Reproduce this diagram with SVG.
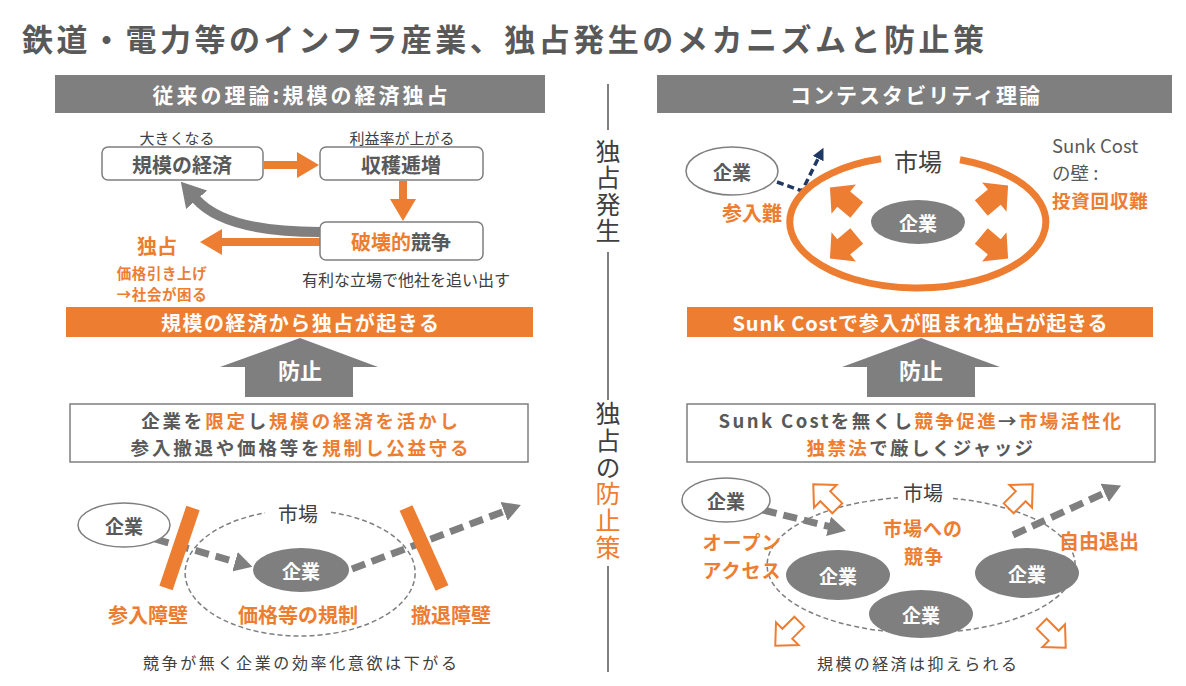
<svg xmlns="http://www.w3.org/2000/svg" width="1186" height="686" viewBox="0 0 1186 686">
<defs>
<style>
text{font-family:"Noto Sans CJK JP","Noto Sans",sans-serif;dominant-baseline:central;text-anchor:middle}
.b{font-weight:700}
.o{fill:#ED7D31}
.d{fill:#404040}
.g{fill:#595959}
.w{fill:#fff}
.bar{fill:#7F7F7F}
.obar{fill:#ED7D31}
.box{fill:#fff;stroke:#7F7F7F;stroke-width:1.5}
.oa{stroke:#ED7D31;stroke-width:8;fill:none}
.ga{stroke:#7F7F7F;stroke-width:10;fill:none}
.gd{stroke:#7F7F7F;stroke-width:7;stroke-dasharray:14 7;fill:none}
.nd{stroke:#1F3864;stroke-width:3.5;stroke-dasharray:7 4;fill:none}
.thin{stroke:#7F7F7F;stroke-width:1.5;stroke-dasharray:5 3;fill:none}
.ring{stroke:#ED7D31;stroke-width:7;fill:none}
.eo{fill:#fff;stroke:#7F7F7F;stroke-width:1.5}
.ef{fill:#7F7F7F}
.vl{stroke:#7F7F7F;stroke-width:2}
.blk{fill:#ED7D31}
.open{fill:#fff;stroke:#ED7D31;stroke-width:2}
.vt{writing-mode:vertical-rl;text-anchor:start;font-size:25px}
</style>
<marker id="hO" markerUnits="userSpaceOnUse" markerWidth="22" markerHeight="26" refX="1" refY="13" orient="auto"><path d="M0,0 L22,13 L0,26 z" fill="#ED7D31"/></marker>
<marker id="hG" markerUnits="userSpaceOnUse" markerWidth="24" markerHeight="28" refX="1" refY="14" orient="auto"><path d="M0,0 L24,14 L0,28 z" fill="#7F7F7F"/></marker>
<marker id="hD" markerUnits="userSpaceOnUse" markerWidth="18" markerHeight="20" refX="1" refY="10" orient="auto"><path d="M0,0 L18,10 L0,20 z" fill="#7F7F7F"/></marker>
<marker id="hN" markerUnits="userSpaceOnUse" markerWidth="12" markerHeight="12" refX="1" refY="6" orient="auto"><path d="M0,0 L12,6 L0,12 z" fill="#1F3864"/></marker>
<polygon id="blkArrow" points="-14,-10 3,-10 3,-19 21,0 3,19 3,10 -14,10"/>
<polygon id="openArrow" points="-16,-7 1,-7 1,-16 18,0 1,16 1,7 -16,7"/>
</defs>
<rect width="1186" height="686" fill="#fff"/>

<g id="title">
<text x="22" y="37" class="b g" style="text-anchor:start;font-size:31px" textLength="962" lengthAdjust="spacing">鉄道・電力等のインフラ産業、独占発生のメカニズムと防止策</text>
</g>

<g id="header-left">
<rect x="55" y="75" width="490" height="38" class="bar"/>
<text x="300" y="94" class="b w" style="font-size:21px" textLength="295" lengthAdjust="spacing">従来の理論:規模の経済独占</text>
</g>
<g id="header-right">
<rect x="657" y="75" width="515" height="38" class="bar"/>
<text x="915" y="94" class="b w" style="font-size:21px" textLength="250" lengthAdjust="spacing">コンテスタビリティ理論</text>
</g>

<g id="middle">
<line x1="608" y1="84" x2="608" y2="130" class="vl"/>
<text x="608" y="139" class="d vt" style="letter-spacing:1.3px">独占発生</text>
<line x1="608" y1="252" x2="608" y2="400" class="vl"/>
<text x="608" y="401" class="d vt" style="letter-spacing:1.8px">独占の<tspan class="o">防止策</tspan></text>
<line x1="608" y1="566" x2="608" y2="672" class="vl"/>
</g>

<g id="connectors">
<line x1="264" y1="165" x2="298" y2="165" class="oa" marker-end="url(#hO)"/>
<line x1="403" y1="181" x2="403" y2="200" class="oa" marker-end="url(#hO)"/>
<path d="M320 232 Q225 232 196 199" class="ga" marker-end="url(#hG)"/>
<line x1="320" y1="242" x2="221" y2="242" class="oa" marker-end="url(#hO)"/>
<polyline points="777,182 802,191 818.6,157.7" class="nd" marker-end="url(#hN)"/>
<line x1="155" y1="539" x2="236" y2="562" class="gd" marker-end="url(#hD)"/>
<line x1="352" y1="569" x2="505" y2="511" class="gd" marker-end="url(#hD)"/>
<line x1="763" y1="510" x2="829.5" y2="526.6" class="gd" marker-end="url(#hD)"/>
<line x1="1013" y1="535" x2="1105.6" y2="492.5" class="gd" marker-end="url(#hD)"/>
</g>

<g id="node-scale">
<text x="177" y="137" class="d" style="font-size:15px">大きくなる</text>
<rect x="102" y="147" width="161" height="33" rx="6" class="box"/>
<text x="182" y="164" class="b g" style="font-size:20px">規模の経済</text>
</g>
<g id="node-returns">
<text x="402" y="137" class="d" style="font-size:15px">利益率が上がる</text>
<rect x="320" y="147" width="163" height="33" rx="6" class="box"/>
<text x="401" y="164" class="b g" style="font-size:20px">収穫逓増</text>
</g>
<g id="node-destructive">
<rect x="320" y="222" width="163" height="38" rx="6" class="box"/>
<text x="401" y="241" class="b g" style="font-size:20px"><tspan class="o">破壊的</tspan>競争</text>
<text x="406" y="279" class="d" style="font-size:16px">有利な立場で他社を追い出す</text>
</g>
<g id="node-monopoly">
<text x="157" y="245" class="b o" style="font-size:20px">独占</text>
<text class="b o" style="font-size:14.5px;letter-spacing:0.6px"><tspan x="162" y="272">価格引き上げ</tspan><tspan x="162" y="293">→社会が困る</tspan></text>
</g>

<g id="banner-left">
<rect x="66" y="307" width="467" height="30" class="obar"/>
<text x="300" y="322" class="b w" style="font-size:20px" textLength="278" lengthAdjust="spacing">規模の経済から独占が起きる</text>
</g>
<g id="prevent-left">
<polygon points="300,338 378,367 353,367 353,397 245,397 245,367 220,367" class="bar"/>
<text x="300" y="369" class="b w" style="font-size:22px">防止</text>
</g>
<g id="measure-left">
<rect x="70" y="404" width="458" height="58" class="box"/>
<text class="b g" style="font-size:18.5px;letter-spacing:2.8px"><tspan x="301" y="420">企業を<tspan class="o">限定</tspan>し<tspan class="o">規模の経済を活かし</tspan></tspan><tspan x="301" y="447">参入撤退や価格等を<tspan class="o">規制し公益守る</tspan></tspan></text>
</g>

<g id="market-left">
<path d="M331 512.3 A115 63 0 1 1 265 513" class="thin"/>
<text x="298" y="513" class="d" style="font-size:20px">市場</text>
</g>
<g id="firm-out-left">
<ellipse cx="124" cy="525" rx="46" ry="22" class="eo"/>
<text x="124" y="525" class="b g" style="font-size:19px">企業</text>
</g>
<g id="firm-in-left">
<ellipse cx="301" cy="570" rx="48" ry="22" class="ef"/>
<text x="301" y="570" class="b w" style="font-size:19px">企業</text>
</g>
<g id="barrier-entry">
<line x1="193" y1="508" x2="166" y2="588" stroke="#ED7D31" stroke-width="14"/>
<text x="148" y="614" class="b o" style="font-size:20px">参入障壁</text>
</g>
<g id="barrier-exit">
<line x1="406" y1="508" x2="442" y2="588" stroke="#ED7D31" stroke-width="14"/>
<text x="451" y="614" class="b o" style="font-size:20px">撤退障壁</text>
</g>
<g id="regulation-label">
<text x="298" y="614" class="b o" style="font-size:20px">価格等の規制</text>
<text x="300" y="662" class="d" style="font-size:16px" textLength="314" lengthAdjust="spacing">競争が無く企業の効率化意欲は下がる</text>
</g>

<g id="contest-top">
<path d="M960 159.7 A128 66 0 1 1 881 158.8" class="ring"/>
<text x="918" y="160" class="d" style="font-size:24px">市場</text>
<ellipse cx="918" cy="222" rx="47" ry="22" class="ef"/>
<text x="918" y="222" class="b w" style="font-size:19px">企業</text>
<use href="#blkArrow" class="blk" transform="translate(846 201) rotate(-140)"/>
<use href="#blkArrow" class="blk" transform="translate(846 245) rotate(140)"/>
<use href="#blkArrow" class="blk" transform="translate(992 199) rotate(-40)"/>
<use href="#blkArrow" class="blk" transform="translate(992 245) rotate(40)"/>
</g>
<g id="firm-out-top">
<ellipse cx="732" cy="171" rx="46" ry="24" class="eo"/>
<text x="732" y="171" class="b g" style="font-size:19px">企業</text>
<text x="752" y="212" class="b o" style="font-size:20px">参入難</text>
</g>
<g id="sunk-wall">
<text style="text-anchor:start;font-size:18.5px"><tspan x="1052" y="145" class="g">Sunk Cost</tspan><tspan x="1052" y="172" class="g">の壁 :</tspan><tspan x="1052" y="200" class="b o" style="letter-spacing:0.8px">投資回収難</tspan></text>
</g>

<g id="banner-right">
<rect x="687" y="307" width="466" height="30" class="obar"/>
<text x="920" y="322" class="b w" style="font-size:20px" textLength="375" lengthAdjust="spacing">Sunk Costで参入が阻まれ独占が起きる</text>
</g>
<g id="prevent-right">
<polygon points="921,338 1000,367 975,367 975,397 867,397 867,367 842,367" class="bar"/>
<text x="921" y="369" class="b w" style="font-size:22px">防止</text>
</g>
<g id="measure-right">
<rect x="687" y="404" width="468" height="58" class="box"/>
<text class="b g" style="font-size:18.5px;letter-spacing:2.4px"><tspan x="921" y="420">Sunk Costを無くし<tspan class="o">競争促進</tspan>→<tspan class="o">市場活性化</tspan></tspan><tspan x="921" y="447"><tspan class="o">独禁法</tspan>で厳しくジャッジ</tspan></text>
</g>

<g id="market-right">
<path d="M953 498.5 A154 68 0 1 1 898 497.8" class="thin"/>
<text x="923" y="492" class="d" style="font-size:20px">市場</text>
<use href="#openArrow" class="open" transform="translate(826 497) rotate(-135)"/>
<use href="#openArrow" class="open" transform="translate(1020 497) rotate(-45)"/>
<use href="#openArrow" class="open" transform="translate(788 633) rotate(135)"/>
<use href="#openArrow" class="open" transform="translate(1053 635) rotate(45)"/>
<text class="b o" style="font-size:19px;letter-spacing:1px"><tspan x="923" y="527">市場への</tspan><tspan x="924" y="555">競争</tspan></text>
</g>
<g id="firm-out-right">
<ellipse cx="726" cy="500" rx="44" ry="22" class="eo"/>
<text x="726" y="500" class="b g" style="font-size:19px">企業</text>
<text class="b o" style="font-size:19px;letter-spacing:1px"><tspan x="742" y="541">オープン</tspan><tspan x="742" y="569">アクセス</tspan></text>
</g>
<g id="firm-right-1">
<ellipse cx="838" cy="575" rx="52" ry="25" class="ef"/>
<text x="838" y="575" class="b w" style="font-size:19px">企業</text>
</g>
<g id="firm-right-2">
<ellipse cx="1027" cy="573" rx="52" ry="25" class="ef"/>
<text x="1027" y="573" class="b w" style="font-size:19px">企業</text>
</g>
<g id="firm-right-3">
<ellipse cx="921" cy="614" rx="52" ry="24" class="ef"/>
<text x="921" y="614" class="b w" style="font-size:19px">企業</text>
</g>
<g id="exit-label">
<text x="1099" y="540" class="b o" style="font-size:20px">自由退出</text>
<text x="917" y="663" class="d" style="font-size:16px" textLength="200" lengthAdjust="spacing">規模の経済は抑えられる</text>
</g>
</svg>
